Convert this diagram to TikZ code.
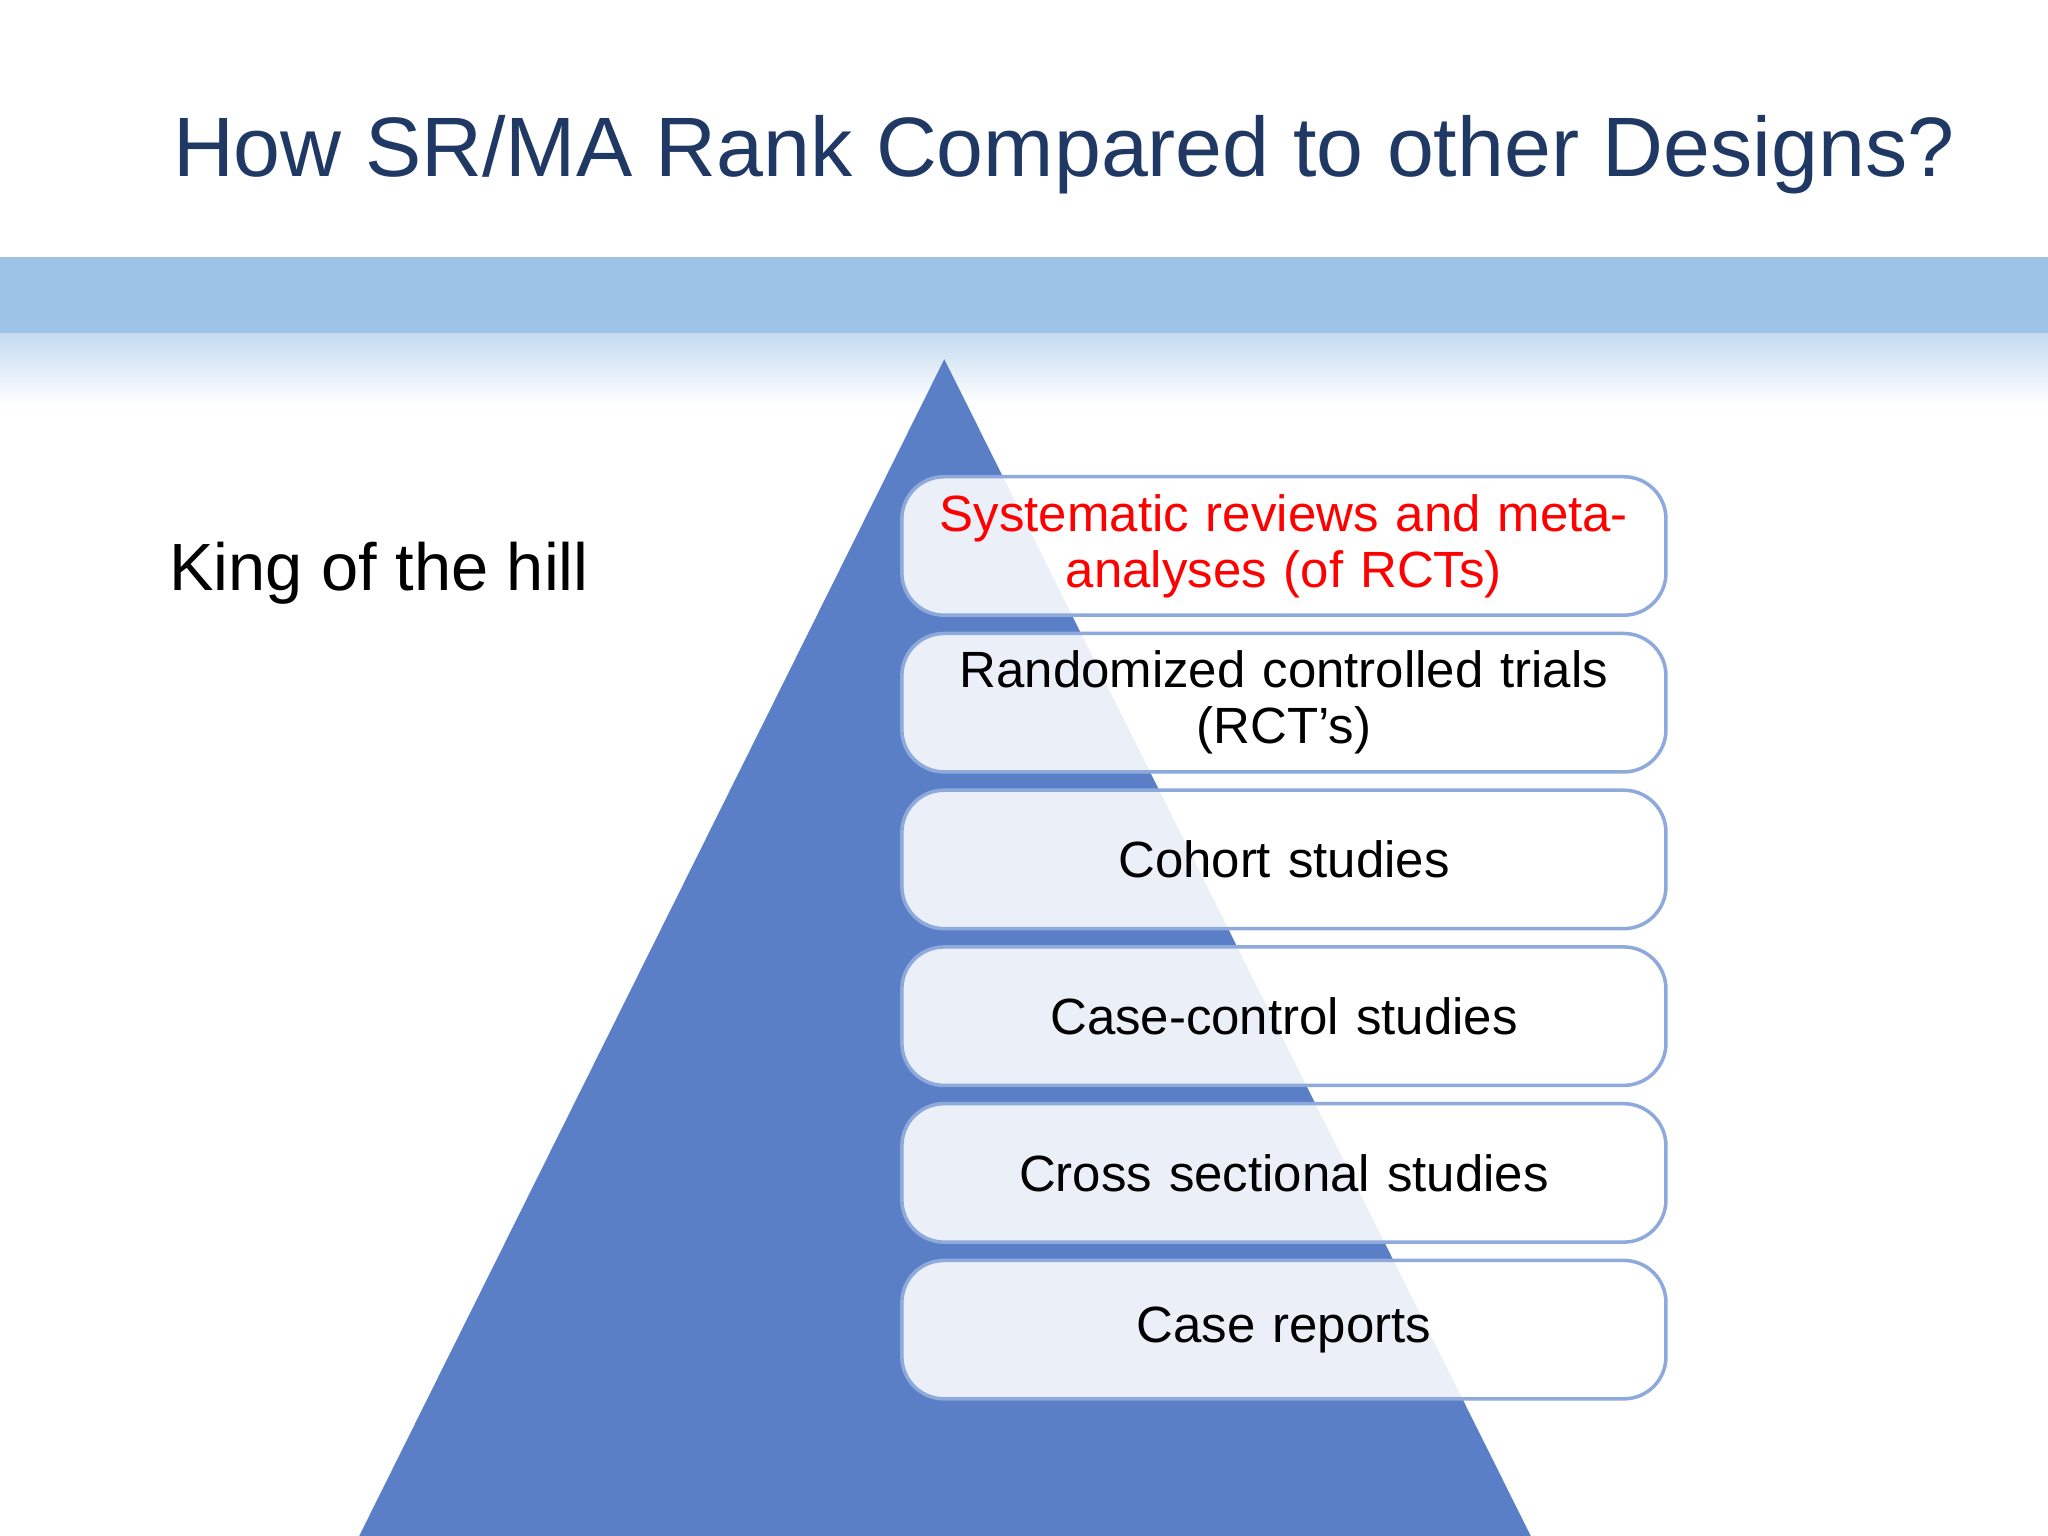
\documentclass[tikz,border=0pt]{standalone}
\usepackage{fontspec}
\setmainfont{Liberation Sans}
\definecolor{navy}{HTML}{1F3864}
\definecolor{band}{HTML}{9DC3E6}
\definecolor{tri}{HTML}{5B7FC7}
\definecolor{bord}{HTML}{8EA9DB}
\begin{document}
\begin{tikzpicture}[x=0.013061cm,y=-0.013061cm,
  lvl/.style={draw=bord,line width=1pt,rounded corners=12pt,fill=white,fill opacity=0.88,text opacity=1,
    minimum width=585*0.013061cm,minimum height=106*0.013061cm,align=center,font=\fontsize{14.5}{16}\selectfont,inner sep=0pt,text width=540*0.013061cm},
  ]
\useasboundingbox (0,0) rectangle (1568,1176);
\fill[white] (0,0) rectangle (1568,1176);
\fill[band] (0,197) rectangle (1568,255);
\shade[top color=band!60,bottom color=white] (0,255) rectangle (1568,310);
\node[anchor=base west,text=navy,font=\fontsize{24}{28}\selectfont] (title) at (123,135) {How SR/MA Rank Compared to other Designs?};
\fill[tri] (723,275) -- (1172,1176) -- (275,1176) -- cycle;
\node[anchor=base west,font=\fontsize{19}{22}\selectfont] (king) at (120,452) {King of the hill};
\node[lvl,text=red] (b1) at (983,418) {Systematic reviews and meta-\\analyses (of RCTs)};
\node[lvl] (b2) at (983,538) {Randomized controlled trials\\(RCT’s)};
\node[lvl] (b3) at (983,658) {Cohort studies};
\node[lvl] (b4) at (983,778) {Case-control studies};
\node[lvl] (b5) at (983,898) {Cross sectional studies};
\node[lvl] (b6) at (983,1018) {Case reports};
\end{tikzpicture}
\end{document}
